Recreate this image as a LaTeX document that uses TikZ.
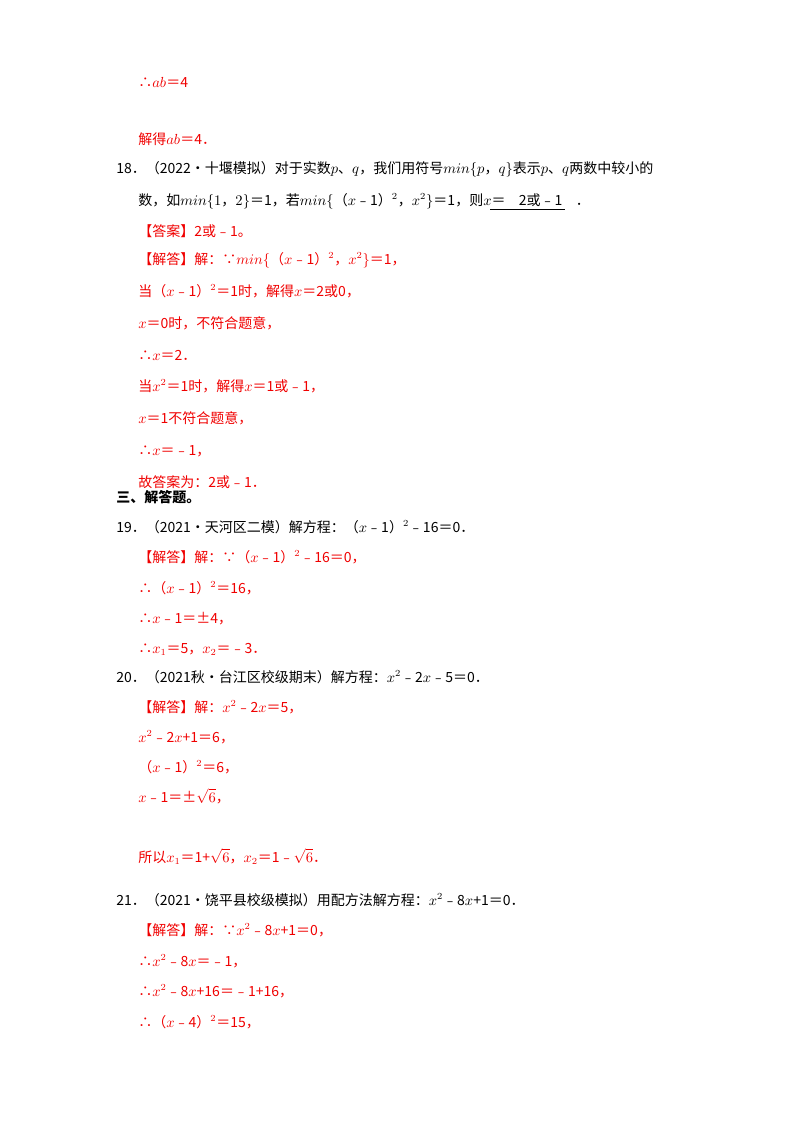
\documentclass[tikz,border=0pt]{standalone}
\usepackage{fontspec}
\setmainfont{Liberation Serif}
\newfontfamily\cjk{Noto Sans CJK SC}
\definecolor{ansred}{RGB}{240,0,0}
\begin{document}
\begin{tikzpicture}[x=0.75pt,y=-0.75pt,
 t/.style={anchor=base west,inner sep=0pt,font=\cjk\fontsize{10.5}{12}\selectfont},
 r/.style={t,text=ansred}]
\useasboundingbox (0,0) rectangle (800,1132);
\node[r] (l1) at (138,87) {∴$ab$＝4};
\node[r] (l2) at (138,144) {解得$ab$＝4．};
\node[t] (l3) at (116,173) {18．（2022•十堰模拟）对于实数$p$、$q$，我们用符号$min\{p$，$q\}$表示$p$、$q$两数中较小的};
\node[t] (l4) at (138,205) {数，如$min\{1$，$2\}$＝1，若$min\{$（$x$﹣1）$^2$，$x^2\}$＝1，则$x$＝\hspace{10pt}2或﹣1\hspace{10pt}．};
\draw (490,209) -- (565,209);
\node[r] (l5) at (138,236) {【答案】2或﹣1。};
\node[r] (l6) at (138,264) {【解答】解：∵$min\{$（$x$﹣1）$^2$，$x^2\}$＝1，};
\node[r] (l7) at (138,296) {当（$x$﹣1）$^2$＝1时，解得$x$＝2或0，};
\node[r] (l8) at (138,328) {$x$＝0时，不符合题意，};
\node[r] (l9) at (138,360) {∴$x$＝2．};
\node[r] (l10) at (138,391) {当$x^2$＝1时，解得$x$＝1或﹣1，};
\node[r] (l11) at (138,423) {$x$＝1不符合题意，};
\node[r] (l12) at (138,455) {∴$x$＝﹣1，};
\node[r] (l13) at (138,487) {故答案为：2或﹣1．};
\node[t,font=\cjk\bfseries\fontsize{10.5}{12}\selectfont] (l14) at (116,502) {三、解答题。};
\node[t] (l15) at (116,532) {19．（2021•天河区二模）解方程：（$x$﹣1）$^2$﹣16＝0．};
\node[r] (l16) at (138,562) {【解答】解：∵（$x$﹣1）$^2$﹣16＝0，};
\node[r] (l17) at (138,593) {∴（$x$﹣1）$^2$＝16，};
\node[r] (l18) at (138,623) {∴$x$﹣1＝±4，};
\node[r] (l19) at (138,653) {∴$x_1$＝5，$x_2$＝﹣3．};
\node[t] (l20) at (116,682) {20．（2021秋•台江区校级期末）解方程：$x^2$﹣2$x$﹣5＝0．};
\node[r] (l21) at (138,712) {【解答】解：$x^2$﹣2$x$＝5，};
\node[r] (l22) at (138,742) {$x^2$﹣2$x$+1＝6，};
\node[r] (l23) at (138,772) {（$x$﹣1）$^2$＝6，};
\node[r] (l24) at (138,802) {$x$﹣1＝±$\sqrt{6}$，};
\node[r] (l25) at (138,862) {所以$x_1$＝1+$\sqrt{6}$，$x_2$＝1﹣$\sqrt{6}$．};
\node[t] (l26) at (116,905) {21．（2021•饶平县校级模拟）用配方法解方程：$x^2$﹣8$x$+1＝0．};
\node[r] (l27) at (138,935) {【解答】解：∵$x^2$﹣8$x$+1＝0，};
\node[r] (l28) at (138,966) {∴$x^2$﹣8$x$＝﹣1，};
\node[r] (l29) at (138,996) {∴$x^2$﹣8$x$+16＝﹣1+16，};
\node[r] (l30) at (138,1027) {∴（$x$﹣4）$^2$＝15，};
\end{tikzpicture}
\end{document}
